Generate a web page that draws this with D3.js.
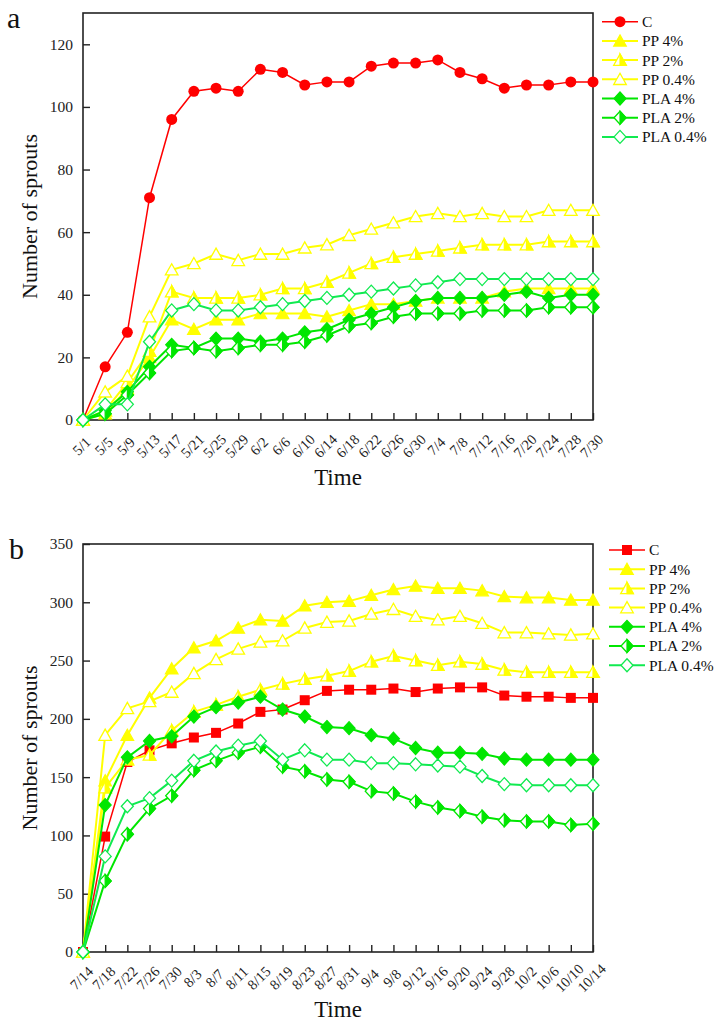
<!DOCTYPE html>
<html>
<head>
<meta charset="utf-8">
<script src="https://cdn.jsdelivr.net/npm/d3@7"></script>
<style>
  body { margin: 0; background: #fff; }
  svg { display: block; font-family: "Liberation Serif", "Times New Roman", serif; }
</style>
</head>
<body>
<svg width="723" height="1025"></svg>
<script>
// **** Data ****

const datesA = ['5/1','5/5','5/9','5/13','5/17','5/21','5/25','5/29','6/2','6/6','6/10','6/14',
  '6/18','6/22','6/26','6/30','7/4','7/8','7/12','7/16','7/20','7/24','7/28','7/30'];
const datesB = ['7/14','7/18','7/22','7/26','7/30','8/3','8/7','8/11','8/15','8/19','8/23','8/27',
  '8/31','9/4','9/8','9/12','9/16','9/20','9/24','9/28','10/2','10/6','10/10','10/14'];

const seriesNames = ['C', 'PP 4%', 'PP 2%', 'PP 0.4%', 'PLA 4%', 'PLA 2%', 'PLA 0.4%'];

// panel a
const cA     = [0,17,28,71,96,105,106,105,112,111,107,108,108,113,114,114,115,111,109,106,107,107,108,108];
const pp4A   = [0,2,10,20,32,29,32,32,34,34,34,33,35,37,37,38,39,39,39,41,42,42,42,42];
const pp2A   = [0,3,12,22,41,39,39,39,40,42,42,44,47,50,52,53,54,55,56,56,56,57,57,57];
const pp04A  = [0,9,14,33,48,50,53,51,53,53,55,56,59,61,63,65,66,65,66,65,65,67,67,67];
const pla4A  = [0,3,9,17,24,23,26,26,25,26,28,29,32,34,36,38,39,39,39,40,41,39,40,40];
const pla2A  = [0,2,8,15,22,23,22,23,24,24,25,27,30,31,33,34,34,34,35,35,35,36,36,36];
const pla04A = [0,5,5,25,35,37,35,35,36,37,38,39,40,41,42,43,44,45,45,45,45,45,45,45];

// panel b
const cB     = [0,99,163,173,179,184,188,196,206,208,216,224,225,225,226,223,226,227,227,220,219,219,218,218];
const pp4B   = [0,147,186,218,243,261,267,278,285,284,297,300,301,306,311,314,312,312,310,305,304,304,302,302];
const pp2B   = [0,141,165,169,190,206,212,219,225,230,234,237,241,249,254,250,246,249,247,242,240,240,240,240];
const pp04B  = [0,186,209,215,223,239,251,260,266,267,278,283,284,290,294,288,285,288,282,274,274,273,272,273];
const pla4B  = [0,126,167,181,185,202,210,214,219,208,202,193,192,186,183,175,171,171,170,166,165,165,165,165];
const pla2B  = [0,61,101,123,134,156,164,171,176,159,155,148,146,138,136,129,124,121,116,113,112,112,109,110];
const pla04B = [0,82,125,132,147,164,172,177,181,165,173,165,165,162,162,161,160,159,151,144,143,143,143,143];

const yTicksA = [0, 20, 40, 60, 80, 100, 120];
const yTicksB = [0, 50, 100, 150, 200, 250, 300, 350];

// **** Styles ****

const serif = '"Liberation Serif", "Times New Roman", serif';
const colors   = ['#ff0000', '#ffff00', '#ffff00', '#ffff00', '#00e600', '#00e600', '#10ea50'];
const markersA = ['circle', 'tri', 'halfTri', 'openTri', 'diamond', 'halfDiamond', 'openDiamond'];
const markersB = ['square', 'tri', 'halfTri', 'openTri', 'diamond', 'halfDiamond', 'openDiamond'];

const svg = d3.select('svg');
const plotLeft = 83, plotRight = 593;

function drawMarker(g, type, color) {
    if (type === 'circle') {
        g.append('circle').attr('r', 5.5).style('fill', color);
        return;
    }
    if (type === 'square') {
        g.append('rect').attr('x', -5).attr('y', -5).attr('width', 10).attr('height', 10).style('fill', color);
        return;
    }
    const tri = 'M0,-6L6.3,5.2L-6.3,5.2Z';
    const triHalf = 'M0,-6L6.3,5.2L0,5.2Z';
    const dia = 'M0,-6.5L6,0L0,6.5L-6,0Z';
    const diaHalf = 'M0,-6.5L6,0L0,6.5Z';
    const isTri = type.toLowerCase().indexOf('tri') >= 0;
    const full = isTri ? tri : dia;
    const half = isTri ? triHalf : diaHalf;
    if (type === 'tri' || type === 'diamond') {
        g.append('path').attr('d', full).style('fill', color).style('stroke', color).style('stroke-width', 1.2);
    } else if (type === 'openTri' || type === 'openDiamond') {
        g.append('path').attr('d', full).style('fill', '#fff').style('stroke', color).style('stroke-width', 1.3);
    } else {
        g.append('path').attr('d', full).style('fill', '#fff').style('stroke', color).style('stroke-width', 1.3);
        g.append('path').attr('d', half).style('fill', color).style('stroke', color).style('stroke-width', 1.2);
    }
}

// **** One panel ****

function drawPanel(p) {
    const x = d3.scalePoint().domain(p.dates).range([plotLeft, plotRight]);
    const y = d3.scaleLinear().domain(p.yDomain).range([p.bottom, p.top]);

    // axes
    const xAxis = svg.append('g')
        .attr('transform', `translate(0,${p.bottom})`)
        .call(d3.axisBottom(x).tickSize(-7).tickPadding(0));
    xAxis.select('.domain').remove();
    xAxis.attr('font-family', serif).attr('font-size', 14.5).attr('color', '#222');
    xAxis.selectAll('line').style('stroke-width', 1.4);
    xAxis.selectAll('text')
        .attr('y', 0).attr('dy', '0.35em')
        .attr('text-anchor', 'middle')
        .attr('transform', 'translate(-2,26) rotate(-45)')
        .style('fill', '#222');

    const yAxis = svg.append('g')
        .attr('transform', `translate(${plotLeft},0)`)
        .call(d3.axisLeft(y).tickValues(p.yTicks).tickSize(-7).tickPadding(10));
    yAxis.select('.domain').remove();
    yAxis.attr('font-family', serif).attr('font-size', 15.5).attr('color', '#222');
    yAxis.selectAll('line').style('stroke-width', 1.4);
    yAxis.selectAll('text').style('fill', '#222');

    // frame
    svg.append('rect')
        .attr('x', plotLeft).attr('y', p.top)
        .attr('width', plotRight - plotLeft).attr('height', p.bottom - p.top)
        .style('fill', 'none').style('stroke', '#222').style('stroke-width', 1.6);

    const line = d3.line().x((d, i) => x(p.dates[i])).y(d => y(d));

    p.series.forEach((vals, s) => {
        svg.append('path')
            .attr('d', line(vals))
            .style('fill', 'none')
            .style('stroke', colors[s])
            .style('stroke-width', s === 0 ? 1.5 : 2);
        vals.forEach((v, i) => {
            const m = svg.append('g').attr('transform', `translate(${x(p.dates[i])},${y(v)})`);
            drawMarker(m, p.markers[s], colors[s]);
        });
    });

    // legend
    seriesNames.forEach((name, s) => {
        const ly = p.legendY + s * 19.2;
        const lg = svg.append('g').attr('transform', `translate(${p.legendX},${ly})`);
        lg.append('line').attr('x1', 0).attr('x2', 36)
            .style('stroke', colors[s]).style('stroke-width', s === 0 ? 1.5 : 2);
        const m = lg.append('g').attr('transform', 'translate(18,0)');
        drawMarker(m, p.markers[s], colors[s]);
        lg.append('text').attr('x', 40).attr('dy', '0.35em')
            .attr('font-size', 15.5).style('fill', '#111').text(name);
    });

    // titles
    svg.append('text')
        .attr('transform', `translate(37,${(p.top + p.bottom) / 2}) rotate(-90)`)
        .attr('text-anchor', 'middle').attr('font-size', 22).style('fill', '#111')
        .text('Number of sprouts');

    svg.append('text')
        .attr('x', (plotLeft + plotRight) / 2).attr('y', p.bottom + 65)
        .attr('text-anchor', 'middle').attr('font-size', 23).style('fill', '#111')
        .text('Time');

    svg.append('text')
        .attr('x', p.letterX).attr('y', p.top + 15)
        .attr('font-size', 30).style('fill', '#111')
        .text(p.letter);
}

drawPanel({
    letter: 'a', letterX: 7,
    dates: datesA, yDomain: [0, 130], yTicks: yTicksA,
    top: 13, bottom: 420,
    series: [cA, pp4A, pp2A, pp04A, pla4A, pla2A, pla04A],
    markers: markersA,
    legendX: 602, legendY: 21.7
});

drawPanel({
    letter: 'b', letterX: 9,
    dates: datesB, yDomain: [0, 350], yTicks: yTicksB,
    top: 544, bottom: 952,
    series: [cB, pp4B, pp2B, pp04B, pla4B, pla2B, pla04B],
    markers: markersB,
    legendX: 609, legendY: 550
});
</script>
</body>
</html>
